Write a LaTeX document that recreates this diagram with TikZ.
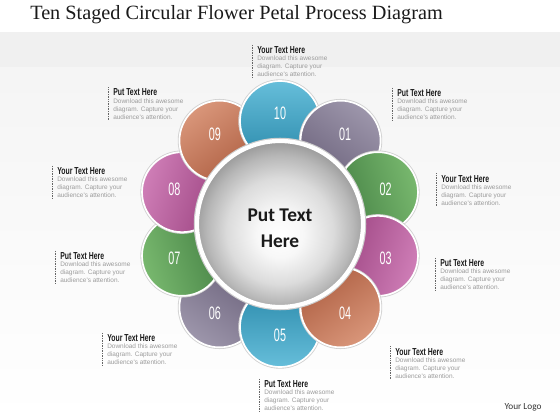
\documentclass[tikz,border=0pt]{standalone}
\usepackage{fontspec}
\setmainfont{Liberation Serif}
\newfontfamily\headfont[FakeStretch=0.68]{Liberation Sans}
\newfontfamily\numfont[FakeStretch=0.6]{Liberation Sans}
\newfontfamily\bodyfont{Liberation Sans}
\newfontfamily\calfont{Carlito}
\usetikzlibrary{positioning}

\definecolor{ink}{HTML}{1A1A1A}
\definecolor{bodygray}{HTML}{9C9C9C}
\definecolor{slateL}{HTML}{9D96AB}
\definecolor{slateD}{HTML}{6E657E}
\definecolor{leafL}{HTML}{78B86E}
\definecolor{leafD}{HTML}{478346}
\definecolor{plumL}{HTML}{CF7EB7}
\definecolor{plumD}{HTML}{9E4683}
\definecolor{rustL}{HTML}{D9967A}
\definecolor{rustD}{HTML}{AE5F42}
\definecolor{tealL}{HTML}{66BEDA}
\definecolor{tealD}{HTML}{2B8AAB}

\pgfdeclareradialshading{sphere}{\pgfpoint{0bp}{-4bp}}{color(0bp)=(white); color(7bp)=(black!3); color(16bp)=(black!14); color(22bp)=(black!28); color(26bp)=(black!40); color(30bp)=(black!54); color(35bp)=(black!60)}

\begin{document}
\begin{tikzpicture}[x=0.025cm,y=-0.025cm,
  petal/.style={circle,minimum size=2cm,inner sep=0pt,draw=white,line width=1.2pt,
    preaction={draw=black!18,line width=2.4pt}},
  petalnum/.style={text=white,font=\numfont\fontsize{12.8}{12.8}\selectfont},
  heading/.style={anchor=base west,inner sep=0pt,text=ink,
    font=\headfont\bfseries\fontsize{7.2}{8}\selectfont},
  blurb/.style={align=left,inner sep=0pt,text=bodygray,
    font=\bodyfont\fontsize{4.6}{5.7}\selectfont},
  dotrule/.style={black!60,line width=0.5pt,dash pattern=on 0.5pt off 0.7pt}]

  % background and frame
  \fill[black!6] (0,32) rectangle (560,68);
  \shade[top color=black!4,bottom color=white] (0,68) rectangle (560,420);
  \useasboundingbox (0,0) rectangle (560,420);

  \node[anchor=base west,inner sep=0pt,text=ink,font=\fontsize{14.4}{16}\selectfont]
    (title) at (30,20) {Ten Staged Circular Flower Petal Process Diagram};

  % petals
  \coordinate (o) at (280,224);
  \foreach \n/\lab/\cl in {6/06/slate,7/07/leaf,8/08/plum,9/09/rust,10/10/teal,
                          1/01/slate,2/02/leaf,3/03/plum,5/05/teal,4/04/rust}{
    \pgfmathtruncatemacro\ang{-36*\n}
    \node[petal,top color=\cl L,bottom color=\cl D,shading angle=\ang]
      (p\n) at ([shift={(36*\n-90:103)}]o) {};
    \node[petalnum] (n\n) at ([shift={(36*\n-90:111)}]o) {\lab};
  }

  % centre
  \node[circle,minimum size=4.15cm,inner sep=0pt,draw=white,line width=3pt,
    shading=sphere,preaction={draw=black!20,line width=4.6pt}] (c) at (o) {};
  \node[align=center,text=ink,font=\calfont\bfseries\fontsize{13.8}{18.4}\selectfont]
    (ctext) at ([yshift=-2.8pt]c) {Put Text\\Here};

  % text blocks
  \foreach \k/\x/\y/\hd in {10/257/53.5/Your,1/397/96.5/Put,9/113/96/Put,
      2/441/182/Your,3/440/266.5/Put,4/395/355/Your,5/264/387.5/Put,
      6/107/341.5/Your,7/60/259.5/Put,8/57/174.5/Your}{
    \node[heading] (h\k) at (\x,\y) {\hd\ Text Here};
    \node[blurb,below=1.5pt of h\k.base west,anchor=north west] (b\k)
      {Download this awesome\\diagram. Capture your\\audience's attention.};
    \draw[dotrule] ([xshift=-3.5pt,yshift=1pt]h\k.north west) -- ([xshift=-3.5pt]b\k.south west);
  }

  \node[font=\calfont\fontsize{6.6}{8}\selectfont,text=black!80] (logo) at (523,407) {Your Logo};
\end{tikzpicture}
\end{document}
